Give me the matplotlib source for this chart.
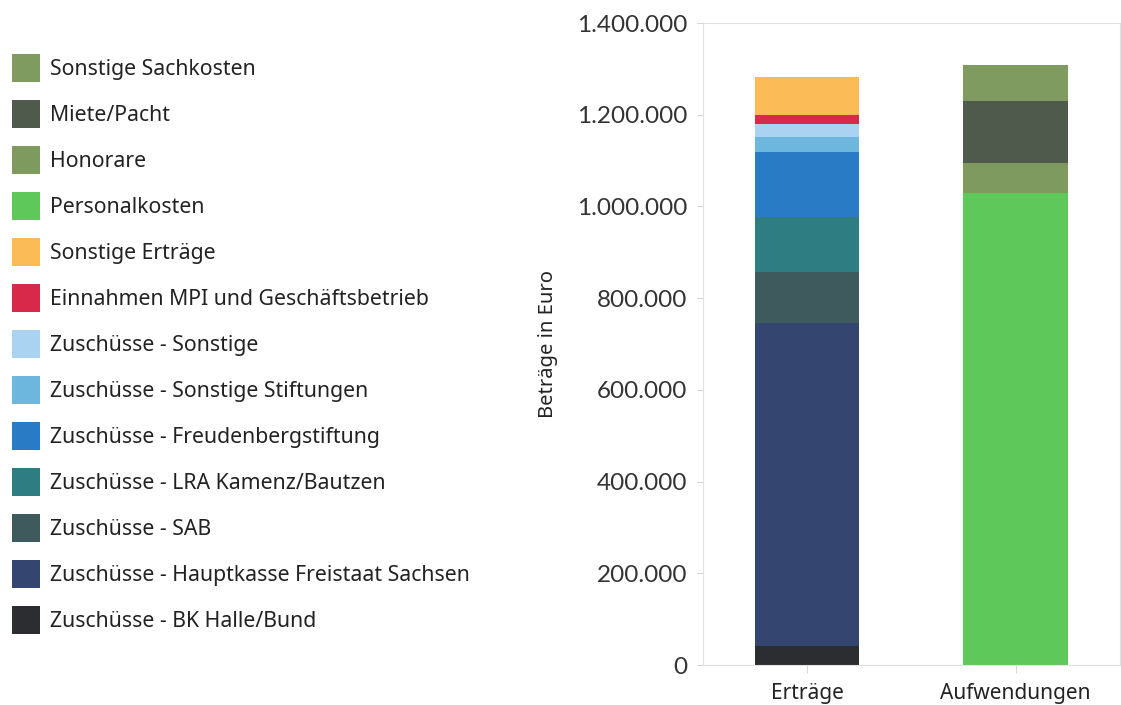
import matplotlib
matplotlib.use("Agg")
import matplotlib.pyplot as plt
from matplotlib.ticker import FuncFormatter

# Kategorien auf der x-Achse
categories = ['Erträge', 'Aufwendungen']

# Stapel von unten nach oben (Wert fuer Erträge, Wert fuer Aufwendungen)
seg_names = ['Zuschüsse - BK Halle/Bund',
             'Zuschüsse - Hauptkasse Freistaat Sachsen',
             'Zuschüsse - SAB',
             'Zuschüsse - LRA Kamenz/Bautzen',
             'Zuschüsse - Freudenbergstiftung',
             'Zuschüsse - Sonstige Stiftungen',
             'Zuschüsse - Sonstige',
             'Einnahmen MPI und Geschäftsbetrieb',
             'Sonstige Erträge',
             'Personalkosten',
             'Honorare',
             'Miete/Pacht',
             'Sonstige Sachkosten']
ertraege = [41000, 705000, 111000, 120000, 142000, 33000, 27000, 20000, 84000, 0, 0, 0, 0]
aufwendungen = [0, 0, 0, 0, 0, 0, 0, 0, 0, 1029000, 65000, 136000, 78000]
seg_colors = ['#2b2d31', '#34466f', '#3e5a5d', '#2e7d83', '#2a7bc5', '#6db7df',
              '#a9d3f1', '#d8294b', '#fbbb57', '#5fc85b', '#7f9a5f', '#4f5a4d', '#809b60']

yticks = [0, 200000, 400000, 600000, 800000, 1000000, 1200000, 1400000]

fig = plt.figure(figsize=(11.21, 7.05), dpi=100)
ax = fig.add_axes([0.627, 0.0567, 0.372, 0.9106])

x = range(len(categories))
bottom = [0, 0]
handles = []
for name, e, a, c in zip(seg_names, ertraege, aufwendungen, seg_colors):
    vals = [e, a]
    b = ax.bar(x, vals, width=0.5, bottom=bottom, color=c, label=name, linewidth=0)
    handles.append(b)
    bottom = [bottom[0] + e, bottom[1] + a]

ax.set_xlim(-0.5, 1.5)
ax.set_ylim(0, 1400000)
ax.set_yticks(yticks)
ax.yaxis.set_major_formatter(FuncFormatter(lambda v, p: '{:,.0f}'.format(v).replace(',', '.')))
ax.set_xticks(list(x))
ax.set_xticklabels(categories, fontsize=15, family='Noto Sans', color='#222222')
for lbl in ax.get_yticklabels():
    lbl.set_family('Lato')
    lbl.set_fontsize(17.5)
    lbl.set_color('#333333')
ax.tick_params(axis='y', length=4, width=0.6, color='#cccccc', pad=7)
ax.tick_params(axis='x', length=6, width=0.6, color='#cccccc', pad=7)
for s in ax.spines.values():
    s.set_color('#e2e2e2')
    s.set_linewidth(0.8)
ax.set_ylabel('Beträge in Euro', fontsize=14.5, family='Noto Sans',
              color='#222222', labelpad=14)

leg = fig.legend(handles[::-1], seg_names[::-1], loc='upper left',
                 bbox_to_anchor=(0.0107, 0.924), frameon=False,
                 prop={'family': 'Noto Sans', 'size': 15.3},
                 handlelength=1.32, handleheight=1.65, handletextpad=0.45,
                 labelspacing=0.85, borderpad=0, borderaxespad=0)
for t in leg.get_texts():
    t.set_color('#222222')

fig.savefig('out.png', dpi=100)
